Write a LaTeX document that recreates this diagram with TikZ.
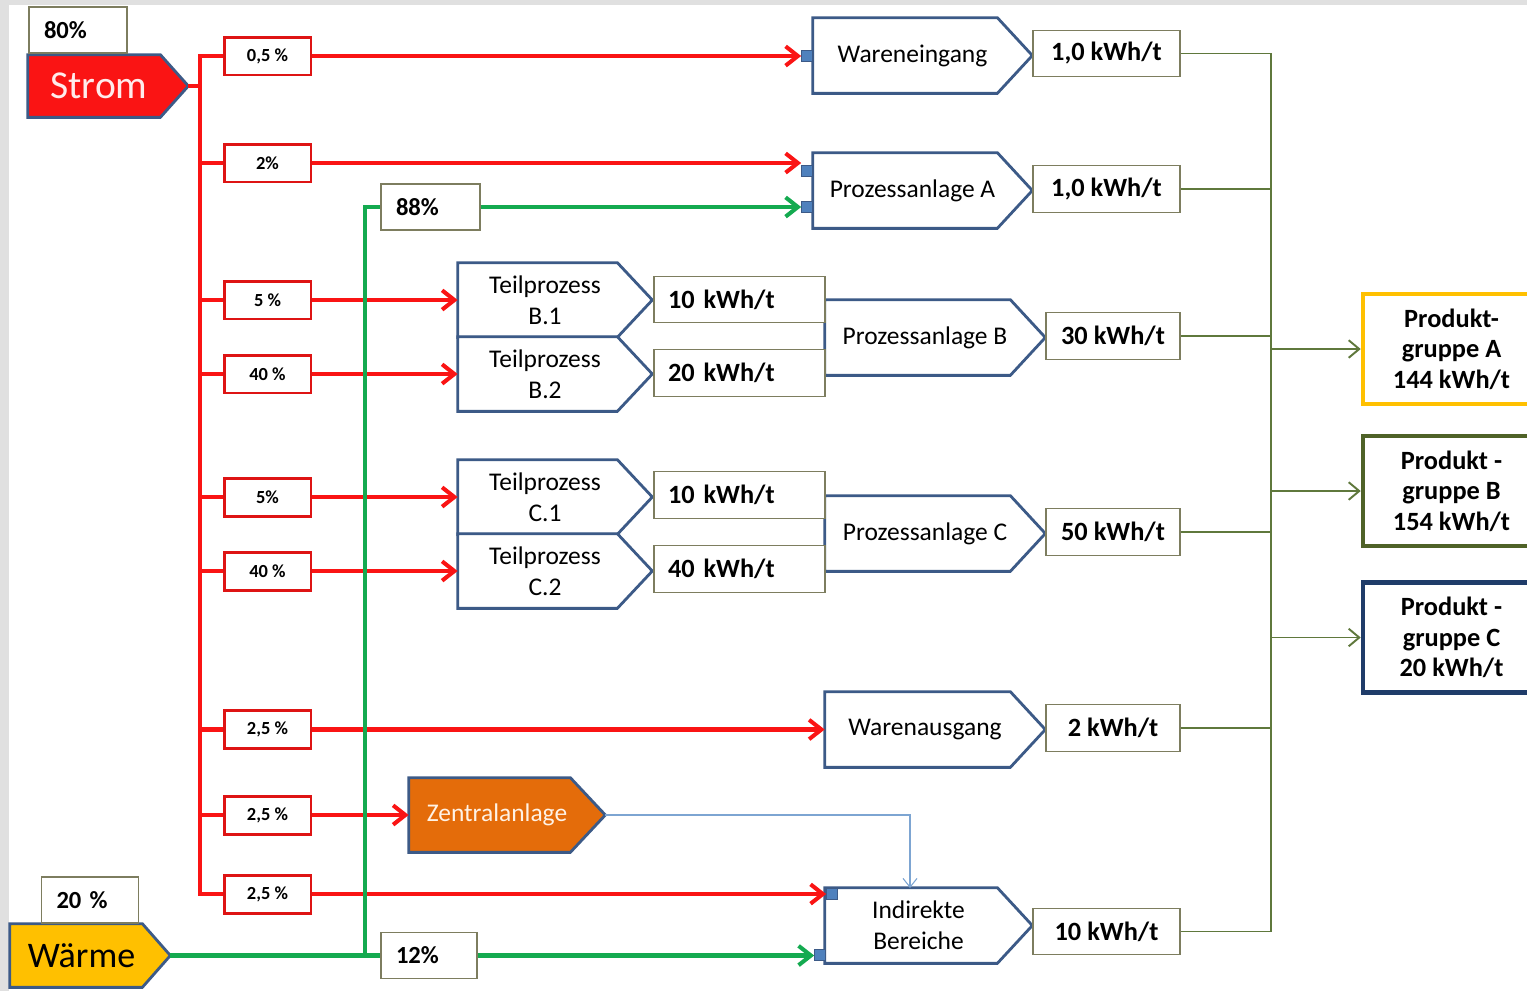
\documentclass[tikz,border=0pt]{standalone}
\usepackage{fontspec}
\setmainfont{Carlito}
\usetikzlibrary{arrows.meta,calc,backgrounds}

\definecolor{stromrot}{RGB}{250,20,20}
\definecolor{boxrot}{RGB}{222,20,20}
\definecolor{waermegruen}{RGB}{20,170,80}
\definecolor{rahmenblau}{RGB}{60,90,135}
\definecolor{quadratblau}{RGB}{79,129,189}
\definecolor{olivgruen}{RGB}{95,120,60}
\definecolor{wertrahmen}{RGB}{125,125,95}
\definecolor{waermegelb}{RGB}{255,192,0}
\definecolor{zentralorange}{RGB}{228,108,10}
\definecolor{pgBrahmen}{RGB}{79,98,40}
\definecolor{pgCrahmen}{RGB}{31,60,105}
\definecolor{duennblau}{RGB}{125,165,210}
\definecolor{hintergrund}{RGB}{224,224,224}

\tikzset{
  proz/.style={inner sep=0pt, align=center, minimum height=1.5cm,
    font=\fontsize{14.5}{17.4}\selectfont},
  prozrand/.style={draw=rahmenblau, line width=1.6pt, fill=white, line join=miter},
  wert/.style={draw=wertrahmen, line width=0.8pt, fill=white, inner sep=0pt,
    minimum height=0.93cm, font=\bfseries\fontsize{15}{18}\selectfont},
  wertlinks/.style={wert, minimum width=3.42cm, text width=2.86cm, align=left},
  anteil/.style={draw=boxrot, line width=1.7pt, fill=white, minimum width=1.74cm,
    minimum height=0.76cm, inner sep=0pt, font=\bfseries\fontsize{10.5}{12}\selectfont},
  quelle/.style={draw=wertrahmen, line width=0.6pt, fill=white, inner sep=0pt,
    minimum height=0.92cm, align=left, font=\bfseries\fontsize{14}{16}\selectfont},
  eingang/.style={draw=rahmenblau, fill=quadratblau, line width=0.4pt,
    minimum size=0.22cm, inner sep=0pt},
  rotlinie/.style={draw=stromrot, line width=2.3pt},
  rotpfeil/.style={rotlinie, -{Straight Barb[length=7pt,width=11pt]}},
  gruenlinie/.style={draw=waermegruen, line width=2.3pt},
  gruenpfeil/.style={gruenlinie, -{Straight Barb[length=7pt,width=11pt]}},
  olivlinie/.style={draw=olivgruen, line width=1.1pt},
  olivpfeil/.style={olivlinie, -{Straight Barb[length=6pt,width=10pt]}},
  produkt/.style={fill=white, line width=2.6pt, minimum width=3.54cm,
    minimum height=2.2cm, align=center, inner sep=0pt,
    font=\bfseries\fontsize{15}{17.4}\selectfont},
}

\begin{document}
\begin{tikzpicture}[x=0.02cm, y=-0.02cm]

  % --- Parameter ---
  \def\spitze{35}      % Tiefe der Pfeilspitze (Prozesse)
  \def\ueber{20}       % Spitze ragt über den Textknoten hinaus
  \def\qspitze{28}     % Tiefe der Pfeilspitze (Quellen)

  % --- Rahmen ---
  \clip (0,0) rectangle (1527,991);
  \begin{pgfonlayer}{background}
    \fill[hintergrund] (0,0) rectangle (1527,991);
    \fill[white] (9,5) rectangle (1527,991);
  \end{pgfonlayer}

  % --- Quellen ---
  \node[quelle, minimum width=1.96cm, text width=1.36cm] (Q80) at (78,30) {80\%};
  \node[proz, minimum width=3.2cm, minimum height=1.24cm, text=red!8,
        font=\fontsize{22.5}{25}\selectfont] (ST) at (108,86) {Strom\hspace{0.36cm}};
  \node[quelle, minimum width=1.94cm, text width=1.34cm] (Q20) at (90,900) {20 \%};
  \node[proz, minimum width=3.2cm, minimum height=1.26cm,
        font=\fontsize{20.5}{23}\selectfont] (WM) at (90,955.5) {Wärme\hspace{0.34cm}};

  % --- Anteile Strom ---
  \node[anteil] (A1) at (267.5,56)  {0,5 \%};
  \node[anteil] (A2) at (267.5,163) {2\%};
  \node[anteil] (A3) at (267.5,300) {5 \%};
  \node[anteil] (A4) at (267.5,374) {40 \%};
  \node[anteil] (A5) at (267.5,497) {5\%};
  \node[anteil] (A6) at (267.5,571) {40 \%};
  \node[anteil] (A7) at (267.5,729.5) {2,5 \%};
  \node[anteil] (A8) at (267.5,815) {2,5 \%};
  \node[anteil] (A9) at (267.5,894) {2,5 \%};

  % --- Anteile Wärme ---
  \node[quelle, minimum width=1.98cm, text width=1.38cm] (P88) at (430.5,207) {88\%};
  \node[quelle, minimum width=1.92cm, text width=1.32cm] (P12) at (429,955.5) {12\%};

  % --- Prozesse ---
  \node[proz, minimum width=3.98cm] (WE)  at (912.5,55.5)  {Wareneingang};
  \node[proz, minimum width=3.98cm] (PA)  at (912.5,190.5) {Prozessanlage A};
  \node[proz, minimum width=3.48cm, minimum height=1.48cm] (TB1) at (545,300) {Teilprozess\\B.1};
  \node[proz, minimum width=3.48cm, minimum height=1.48cm] (TB2) at (545,374) {Teilprozess\\B.2};
  \node[proz, minimum width=4.0cm]  (PB)  at (925,337.5) {Prozessanlage B};
  \node[proz, minimum width=3.48cm, minimum height=1.48cm] (TC1) at (545,497) {Teilprozess\\C.1};
  \node[proz, minimum width=3.48cm, minimum height=1.48cm] (TC2) at (545,571) {Teilprozess\\C.2};
  \node[proz, minimum width=4.0cm]  (PC)  at (925,533.5) {Prozessanlage C};
  \node[proz, minimum width=4.0cm]  (WA)  at (925,729.5) {Warenausgang};
  \node[proz, text=orange!10, minimum width=3.52cm, minimum height=1.48cm]
        (ZA) at (497,815) {Zentralanlage};
  \node[proz, minimum width=3.74cm] (IB)  at (918.5,925.5) {Indirekte\\Bereiche};

  % --- Pfeilformen hinter den Texten ---
  \begin{pgfonlayer}{background}
    \draw[prozrand, fill=stromrot] (ST.north west) -- ($(ST.north east)+(-\qspitze,0)$) -- (ST.east)
      -- ($(ST.south east)+(-\qspitze,0)$) -- (ST.south west) -- cycle;
    \draw[prozrand, fill=waermegelb] (WM.north west) -- ($(WM.north east)+(-\qspitze,0)$) -- (WM.east)
      -- ($(WM.south east)+(-\qspitze,0)$) -- (WM.south west) -- cycle;
    \draw[prozrand] (WE.north west) -- ($(WE.north east)+(\ueber-\spitze,0)$) -- ($(WE.east)+(\ueber,0)$)
      -- ($(WE.south east)+(\ueber-\spitze,0)$) -- (WE.south west) -- cycle;
    \draw[prozrand] (PA.north west) -- ($(PA.north east)+(\ueber-\spitze,0)$) -- ($(PA.east)+(\ueber,0)$)
      -- ($(PA.south east)+(\ueber-\spitze,0)$) -- (PA.south west) -- cycle;
    \draw[prozrand] (TB1.north west) -- ($(TB1.north east)+(\ueber-\spitze,0)$) -- ($(TB1.east)+(\ueber,0)$)
      -- ($(TB1.south east)+(\ueber-\spitze,0)$) -- (TB1.south west) -- cycle;
    \draw[prozrand] (TB2.north west) -- ($(TB2.north east)+(\ueber-\spitze,0)$) -- ($(TB2.east)+(\ueber,0)$)
      -- ($(TB2.south east)+(\ueber-\spitze,0)$) -- (TB2.south west) -- cycle;
    \draw[prozrand] (PB.north west) -- ($(PB.north east)+(\ueber-\spitze,0)$) -- ($(PB.east)+(\ueber,0)$)
      -- ($(PB.south east)+(\ueber-\spitze,0)$) -- (PB.south west) -- cycle;
    \draw[prozrand] (TC1.north west) -- ($(TC1.north east)+(\ueber-\spitze,0)$) -- ($(TC1.east)+(\ueber,0)$)
      -- ($(TC1.south east)+(\ueber-\spitze,0)$) -- (TC1.south west) -- cycle;
    \draw[prozrand] (TC2.north west) -- ($(TC2.north east)+(\ueber-\spitze,0)$) -- ($(TC2.east)+(\ueber,0)$)
      -- ($(TC2.south east)+(\ueber-\spitze,0)$) -- (TC2.south west) -- cycle;
    \draw[prozrand] (PC.north west) -- ($(PC.north east)+(\ueber-\spitze,0)$) -- ($(PC.east)+(\ueber,0)$)
      -- ($(PC.south east)+(\ueber-\spitze,0)$) -- (PC.south west) -- cycle;
    \draw[prozrand] (WA.north west) -- ($(WA.north east)+(\ueber-\spitze,0)$) -- ($(WA.east)+(\ueber,0)$)
      -- ($(WA.south east)+(\ueber-\spitze,0)$) -- (WA.south west) -- cycle;
    \draw[prozrand, fill=zentralorange] (ZA.north west) -- ($(ZA.north east)+(\ueber-\spitze,0)$) -- ($(ZA.east)+(\ueber,0)$)
      -- ($(ZA.south east)+(\ueber-\spitze,0)$) -- (ZA.south west) -- cycle;
    \draw[prozrand] (IB.north west) -- ($(IB.north east)+(\ueber-\spitze,0)$) -- ($(IB.east)+(\ueber,0)$)
      -- ($(IB.south east)+(\ueber-\spitze,0)$) -- (IB.south west) -- cycle;
  \end{pgfonlayer}

  % --- Eingänge ---
  \node[eingang] (WEq)  at (807,56)  {};
  \node[eingang] (PAq1) at (807,171) {};
  \node[eingang] (PAq2) at (807,207) {};
  \node[eingang] (IBq1) at (832,894) {};
  \node[eingang] (IBq2) at (820,955) {};

  % --- Werte ---
  \node[wert, minimum width=2.94cm] (W1)  at (1106.5,53.5)  {1,0 kWh/t};
  \node[wert, minimum width=2.94cm] (W2)  at (1106.5,189)   {1,0 kWh/t};
  \node[wertlinks] (WB1) at (739.5,299.5) {10 kWh/t};
  \node[wertlinks] (WB2) at (739.5,373)   {20 kWh/t};
  \node[wert, minimum width=2.68cm] (WB)  at (1113,336)     {30 kWh/t};
  \node[wertlinks] (WC1) at (739.5,495)   {10 kWh/t};
  \node[wertlinks] (WC2) at (739.5,569)   {40 kWh/t};
  \node[wert, minimum width=2.68cm] (WC)  at (1113,532)     {50 kWh/t};
  \node[wert, minimum width=2.68cm] (WW)  at (1113,728)     {2 kWh/t};
  \node[wert, minimum width=2.94cm] (WI)  at (1106.5,931.5) {10 kWh/t};

  % --- Produktgruppen ---
  \node[produkt, draw=waermegelb] (PGA) at (1451.5,349)   {Produkt-\\gruppe A\\144 kWh/t};
  \node[produkt, draw=pgBrahmen]  (PGB) at (1451.5,491)   {Produkt -\\gruppe B\\154 kWh/t};
  \node[produkt, draw=pgCrahmen]  (PGC) at (1451.5,637.5) {Produkt -\\gruppe C\\20 kWh/t};

  % --- Stromschiene ---
  \coordinate (rs) at (200,86);
  \draw[rotlinie] (ST.east) -- (rs);
  \draw[rotlinie] (A1.west) -- (A1.west -| rs) -- (A9.west -| rs) -- (A9.west);
  \draw[rotlinie] (A2.west -| rs) -- (A2.west);
  \draw[rotlinie] (A3.west -| rs) -- (A3.west);
  \draw[rotlinie] (A4.west -| rs) -- (A4.west);
  \draw[rotlinie] (A5.west -| rs) -- (A5.west);
  \draw[rotlinie] (A6.west -| rs) -- (A6.west);
  \draw[rotlinie] (A7.west -| rs) -- (A7.west);
  \draw[rotlinie] (A8.west -| rs) -- (A8.west);

  % --- Strom zu den Verbrauchern ---
  \draw[rotpfeil] (A1.east) -- (WEq.west);
  \draw[rotpfeil] (A2.east) -- (A2.east -| PAq1.west);
  \draw[rotpfeil] (A3.east) -- (TB1.west);
  \draw[rotpfeil] (A4.east) -- (TB2.west);
  \draw[rotpfeil] (A5.east) -- (TC1.west);
  \draw[rotpfeil] (A6.east) -- (TC2.west);
  \draw[rotpfeil] (A7.east) -- (WA.west);
  \draw[rotpfeil] (A8.east) -- (ZA.west);
  \draw[rotpfeil] (A9.east) -- (IBq1.west);

  % --- Wärmeschiene ---
  \coordinate (gk) at (365,955.5);
  \draw[gruenlinie] (WM.east) -- (gk) |- (P88.west);
  \draw[gruenlinie] (gk) -- (P12.west);
  \draw[gruenpfeil] (P88.east) -- (PAq2.west);
  \draw[gruenpfeil] (P12.east) -- (P12.east -| IBq2.west);

  % --- Zentralanlage zu indirekten Bereichen ---
  \coordinate (zs) at ($(ZA.east)+(\ueber,0)$);
  \coordinate (zk) at (910,888);
  \draw[duennblau, line width=0.6pt, -{Straight Barb[length=5pt,width=8pt]}] (zs) -| (zk);

  % --- Sammelschiene ---
  \coordinate (ok) at (1271,500);
  \draw[olivlinie] (W1.east) -- (W1.east -| ok) -- (WI.east -| ok) -- (WI.east);
  \draw[olivlinie] (W2.east) -- (W2.east -| ok);
  \draw[olivlinie] (WB.east) -- (WB.east -| ok);
  \draw[olivlinie] (WC.east) -- (WC.east -| ok);
  \draw[olivlinie] (WW.east) -- (WW.east -| ok);
  \draw[olivpfeil] (PGA.west -| ok) -- (PGA.west);
  \draw[olivpfeil] (PGB.west -| ok) -- (PGB.west);
  \draw[olivpfeil] (PGC.west -| ok) -- (PGC.west);

\end{tikzpicture}
\end{document}
